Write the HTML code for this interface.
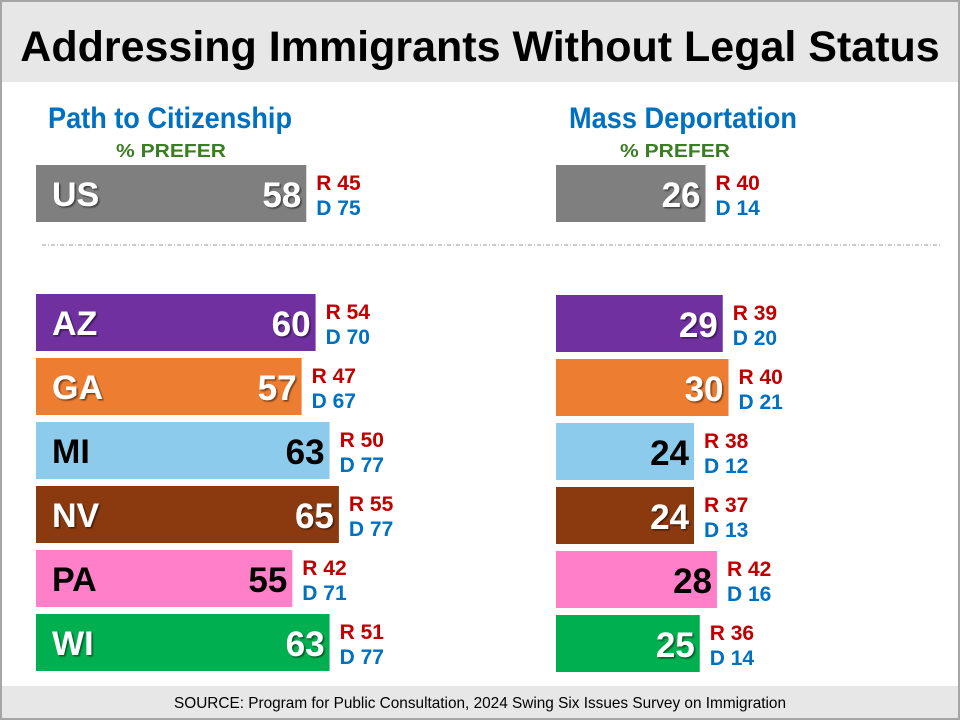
<!DOCTYPE html>
<html><head><meta charset="utf-8"><style>
html,body{margin:0;padding:0;background:#fff}
svg{display:block;font-family:"Liberation Sans",Arial,sans-serif}
</style></head><body>
<svg width="960" height="720">
<defs><filter id="sh" x="-10%" y="-10%" width="130%" height="140%"><feDropShadow dx="1.5" dy="1.5" stdDeviation="0.8" flood-color="#000" flood-opacity="0.5"/></filter></defs>
<rect x="0" y="0" width="960" height="720" fill="#fff"/>
<rect x="0" y="0" width="960" height="82" fill="#e7e7e7"/>
<rect x="0" y="686" width="960" height="34" fill="#e7e7e7"/>
<rect x="1" y="1" width="958" height="718" fill="none" stroke="#a6a6a6" stroke-width="2"/>
<text x="480" y="61" text-anchor="middle" font-size="43" font-weight="bold" fill="#000">Addressing Immigrants Without Legal Status</text>
<text x="480" y="708" text-anchor="middle" font-size="16" fill="#000" textLength="612" lengthAdjust="spacingAndGlyphs">SOURCE: Program for Public Consultation, 2024 Swing Six Issues Survey on Immigration</text>
<text x="48" y="128" font-size="30" font-weight="bold" fill="#0070c0" textLength="244" lengthAdjust="spacingAndGlyphs">Path to Citizenship</text>
<text x="116" y="157" font-size="18" font-weight="bold" fill="#3a7d22" textLength="110" lengthAdjust="spacingAndGlyphs">% PREFER</text>
<text x="569" y="128" font-size="30" font-weight="bold" fill="#0070c0" textLength="228" lengthAdjust="spacingAndGlyphs">Mass Deportation</text>
<text x="620" y="157" font-size="18" font-weight="bold" fill="#3a7d22" textLength="110" lengthAdjust="spacingAndGlyphs">% PREFER</text>
<line x1="42" y1="245" x2="940" y2="245" stroke="#999" stroke-width="1" stroke-dasharray="4,2,1,2"/>
<g id="bars"></g>
</svg>
<script>
const states=["US","AZ","GA","MI","NV","PA","WI"];
const pathVals=[58,60,57,63,65,55,63];
const pathR=[45,54,47,50,55,42,51];
const pathD=[75,70,67,77,77,71,77];
const deportVals=[26,29,30,24,24,28,25];
const deportR=[40,39,40,38,37,42,36];
const deportD=[14,20,21,12,13,16,14];
const colors=["#7f7f7f","#7030a0","#ed7d31","#8ccbec","#8b3a10","#ff7fc8","#00b050"];
const darkText=[false,false,false,true,false,true,false];
const NS="http://www.w3.org/2000/svg";
const g=document.getElementById("bars");
const rowY=i=>i===0?165:294+(i-1)*64;
const xL=v=>36+v*4.66;
const xR=v=>556+v*5.75;
function mk(tag,attrs,txt){const e=document.createElementNS(NS,tag);for(const k in attrs)e.setAttribute(k,attrs[k]);if(txt!==undefined)e.textContent=txt;g.appendChild(e);return e;}
function panel(vals,R,D,x0,xs,key,dy){
 states.forEach((s,i)=>{
  const y=rowY(i)+(i>0?dy:0),end=xs(vals[i]);
  const b=mk("rect",{x:x0,y:y,width:end-x0,height:57,fill:colors[i]});
  
  
  const tc=darkText[i]?"#000":"#fff";
  const f=darkText[i]?"":"url(#sh)";
  if(key==="path"){
   const l=mk("text",{x:x0+16,y:y+41,"font-size":34,"font-weight":"bold",fill:tc,filter:f},s);
   
   
  }
  const v=mk("text",{x:end-5,y:y+42,"font-size":35,"font-weight":"bold",fill:tc,"text-anchor":"end",filter:f},vals[i]);
  
  
  const r=mk("text",{x:end+10,y:y+25,"font-size":21,"font-weight":"bold",fill:"#c00000"},"R "+R[i]);
  
  
  const d=mk("text",{x:end+10,y:y+50,"font-size":21,"font-weight":"bold",fill:"#0070c0"},"D "+D[i]);
  
  
 });
}
panel(pathVals,pathR,pathD,36,xL,"path",0);
panel(deportVals,deportR,deportD,556,xR,"deport",1);
</script>
</body></html>
